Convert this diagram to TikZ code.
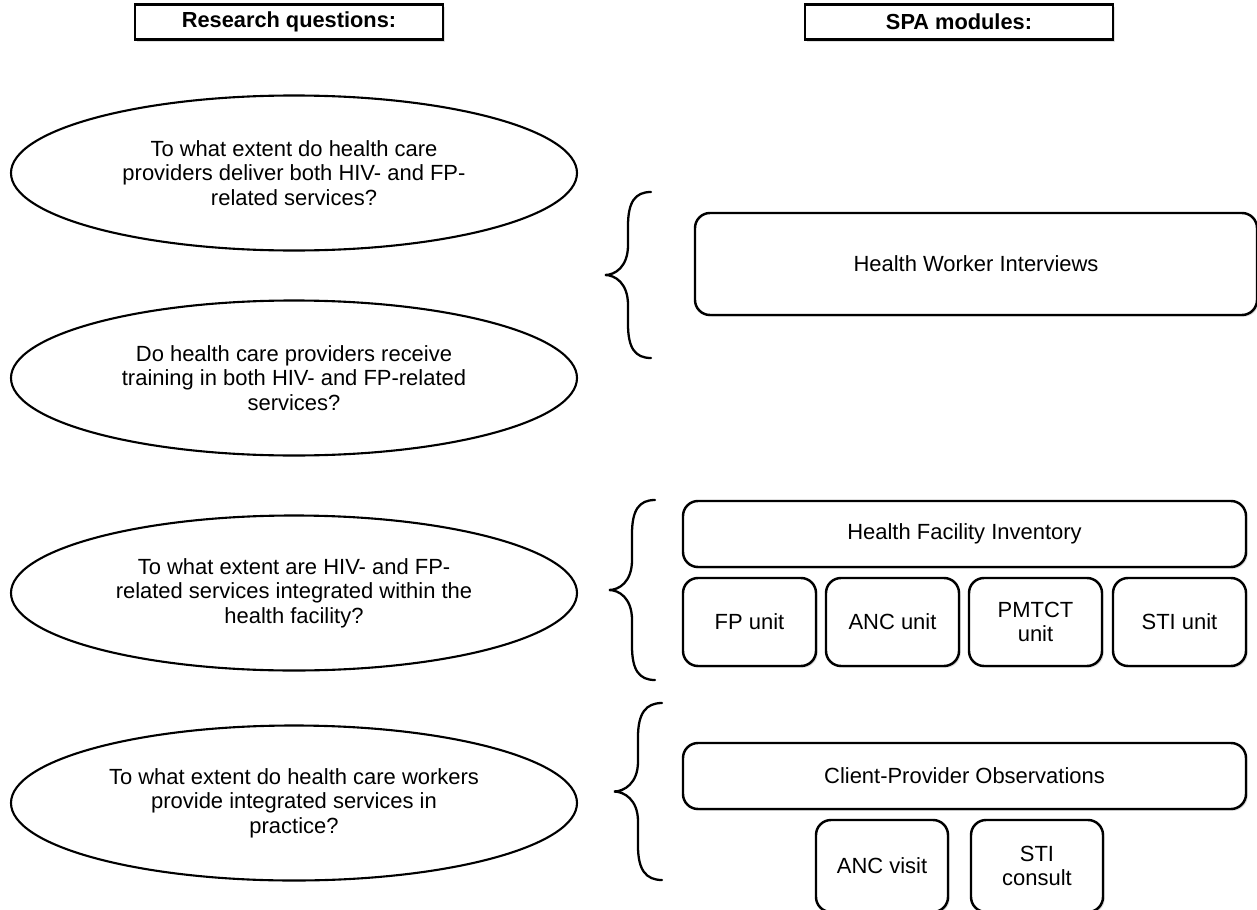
\documentclass[tikz,border=0pt]{standalone}
\usepackage{fontspec}
\setmainfont{Liberation Sans}
\usetikzlibrary{shapes.geometric,shadows}
\newlength{\du}
\setlength{\du}{0.02cm}
% curly brace: tip x, right x, top y, bottom y
\newcommand{\curlybrace}[4]{%
\pgfmathsetmacro{\bx}{(#1+#2)/2}%
\pgfmathsetmacro{\bm}{(#3+#4)/2}%
\draw[curly] (#2\du,#3\du) .. controls (#2\du-16\du,#3\du) and (\bx\du,#3\du+10\du) .. (\bx\du,#3\du+34\du)
  -- (\bx\du,\bm\du-30\du) .. controls (\bx\du,\bm\du-8\du) and (#1\du+10\du,\bm\du) .. (#1\du,\bm\du)
  .. controls (#1\du+10\du,\bm\du) and (\bx\du,\bm\du+8\du) .. (\bx\du,\bm\du+30\du)
  -- (\bx\du,#4\du-34\du) .. controls (\bx\du,#4\du-10\du) and (#2\du-16\du,#4\du) .. (#2\du,#4\du);}

\begin{document}
\begin{tikzpicture}[
  every node/.style={font=\fontsize{12.5}{14}\selectfont, align=center, inner sep=0pt},
  headbox/.style={draw, line width=1.5pt, fill=white, minimum width=308\du, minimum height=35\du,
    font=\fontsize{12.4}{14}\selectfont\bfseries,
    drop shadow={shadow xshift=1.2pt, shadow yshift=-1.2pt, opacity=0.25}},
  question/.style={draw, ellipse, line width=1.2pt, minimum width=566\du, minimum height=155\du},
  module/.style={draw, fill=white, rounded corners=15\du, line width=1.4pt,
    drop shadow={shadow xshift=1pt, shadow yshift=-1pt, opacity=0.25}},
  unitbox/.style={module, minimum width=133\du, minimum height=88\du},
  visitbox/.style={module, minimum width=132\du, minimum height=92\du},
  curly/.style={line width=1.3pt, line cap=round},
]
\pgftransformyscale{-1.000000}
\useasboundingbox (0\du,0\du) rectangle (1257\du,909\du);

% column headers
\node[headbox] (rqhead) at (289\du,22\du) {Research questions:};
\node[headbox] (spahead) at (959\du,22\du) {SPA modules:};

% research questions
\node[question] (q1) at (294\du,173\du) {To what extent do health care\\providers deliver both HIV- and FP-\\related services?};
\node[question] (q2) at (294\du,378\du) {Do health care providers receive\\training in both HIV- and FP-related\\services?};
\node[question] (q3) at (294\du,593\du) {To what extent are HIV- and FP-\\related services integrated within the\\health facility?};
\node[question] (q4) at (294\du,803\du) {To what extent do health care workers\\provide integrated services in\\practice?};

% braces
\curlybrace{605}{651}{192}{358}
\curlybrace{609}{655}{500}{680}
\curlybrace{614}{662}{703}{880}

% SPA modules
\node[module, minimum width=562\du, minimum height=102\du] (hwi) at (976\du,264\du) {Health Worker Interviews};

\node[module, minimum width=563\du, minimum height=66\du] (hfi) at (964.5\du,534\du) {Health Facility Inventory};
\node[unitbox] (fpunit) at (749.5\du,622\du) {FP unit};
\node[unitbox] (ancunit) at (892.5\du,622\du) {ANC unit};
\node[unitbox] (pmtctunit) at (1035.5\du,622\du) {PMTCT\\unit};
\node[unitbox] (stiunit) at (1179.5\du,622\du) {STI unit};

\node[module, minimum width=563\du, minimum height=66\du] (cpo) at (964.5\du,776\du) {Client-Provider Observations};
\node[visitbox] (ancvisit) at (882\du,866\du) {ANC visit};
\node[visitbox] (sticonsult) at (1037\du,866\du) {STI\\consult};
\end{tikzpicture}
\end{document}
